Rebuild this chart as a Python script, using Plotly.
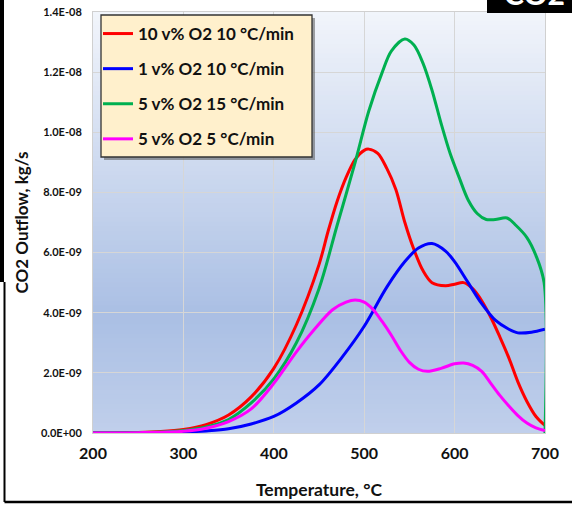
import plotly.graph_objects as go

# ---------------- data (CO2 outflow in units of 1e-9 kg/s) ----------------
red_T = [200, 250, 275, 300, 325, 350, 375, 400, 425, 450, 460, 470, 480, 490, 500, 505, 515, 525, 535, 545,
         555, 565, 575, 590, 600, 610, 620, 630, 640, 650, 660, 670, 680, 690, 700]
red_v = [0, 0.02, 0.05, 0.12, 0.28, 0.6, 1.2, 2.15, 3.6, 5.6, 6.7, 7.7, 8.5, 9.1, 9.4, 9.44, 9.3, 8.8, 8.1, 7.0,
         6.1, 5.4, 5.0, 4.9, 4.95, 5.0, 4.8, 4.4, 3.85, 3.2, 2.5, 1.7, 1.05, 0.55, 0.25]

blue_T = [200, 250, 300, 325, 350, 375, 400, 425, 450, 475, 500, 525, 545, 560, 575, 590, 600, 615,
          630, 645, 660, 670, 685, 700]
blue_v = [0, 0.0, 0.03, 0.07, 0.14, 0.3, 0.55, 1.0, 1.6, 2.5, 3.55, 4.85, 5.7, 6.15, 6.3, 6.05, 5.7, 5.0,
          4.3, 3.75, 3.45, 3.33, 3.35, 3.45]

green_T = [200, 250, 275, 300, 325, 350, 375, 400, 425, 450, 470, 490, 505, 520, 530, 545, 555, 565,
           575, 585, 595, 605, 615, 625, 635, 645, 658, 668, 680, 690, 699, 700]
green_v = [0, 0.01, 0.03, 0.08, 0.2, 0.45, 1.0, 1.8, 3.0, 4.8, 6.9, 9.0, 10.7, 12.0, 12.7, 13.1, 12.9, 12.3,
           11.4, 10.3, 9.3, 8.5, 7.75, 7.3, 7.1, 7.1, 7.15, 6.9, 6.5, 5.9, 5.0, 0]

mag_T = [200, 250, 300, 325, 350, 375, 400, 425, 445, 465, 480, 490, 500, 510, 520, 530, 540, 550,
         560, 570, 585, 600, 610, 620, 630, 640, 650, 660, 670, 680, 690, 700]
mag_v = [0, 0.01, 0.06, 0.16, 0.38, 0.8, 1.65, 2.7, 3.45, 4.1, 4.35, 4.42, 4.35, 4.1, 3.7, 3.25, 2.75, 2.35,
         2.12, 2.05, 2.15, 2.3, 2.33, 2.25, 2.05, 1.65, 1.25, 0.9, 0.58, 0.33, 0.17, 0.08]

series_names = ["10 v% O2 10 °C/min", "1 v% O2 10 °C/min", "5 v% O2 15 °C/min", "5 v% O2 5 °C/min"]

x_ticks = [200, 300, 400, 500, 600, 700]
y_tickvals = [0, 2e-9, 4e-9, 6e-9, 8e-9, 1.0e-8, 1.2e-8, 1.4e-8]
y_ticktext = ["0.0E+00", "2.0E-09", "4.0E-09", "6.0E-09", "8.0E-09", "1.0E-08", "1.2E-08", "1.4E-08"]

# ---------------- figure ----------------
W, H = 572, 505
L, R, T, B = 93, 545, 12, 433
def px(x):
    return (x - L) / (R - L)
def py(y):
    return (B - y) / (B - T)

FONT = "Lato"
fig = go.Figure()

series = [(red_T, red_v, "#ff0000"), (blue_T, blue_v, "#0000ff"),
          (green_T, green_v, "#00b050"), (mag_T, mag_v, "#ff00ff")]
for i, ((xs, vs, col), name) in enumerate(zip(series, series_names)):
    fig.add_trace(go.Scatter(
        x=xs, y=[v * 1e-9 for v in vs], mode="lines", name=name,
        line=dict(color=col, width=3, shape="spline", smoothing=0.9),
        legendgroup=f"g{i}"))

shapes = []
# gradient background
def lerp(c1, c2, t):
    return tuple(round(a + (b - a) * t) for a, b in zip(c1, c2))
stops = [(0.0, (242, 245, 251)), (0.72, (170, 191, 228)), (1.0, (192, 207, 235))]
N = 90
for k in range(N):
    t = (k + 0.5) / N  # from top
    for (t0, c0), (t1, c1) in zip(stops[:-1], stops[1:]):
        if t0 <= t <= t1:
            c = lerp(c0, c1, (t - t0) / (t1 - t0))
            break
    shapes.append(dict(type="rect", xref="paper", yref="paper", x0=0, x1=1,
                       y0=1 - (k + 1) / N, y1=1 - k / N + 0.002, layer="below",
                       line=dict(width=0), fillcolor="rgb(%d,%d,%d)" % c))
# legend shadow + box
lx0, lx1, ly0, ly1 = 101, 312, 15, 157
shapes.append(dict(type="rect", xref="paper", yref="paper", x0=px(lx0 + 3), x1=px(lx1 + 3),
                   y0=py(ly1 + 3), y1=py(ly0 + 3), layer="above",
                   line=dict(width=0), fillcolor="rgba(90,90,90,0.55)"))
shapes.append(dict(type="rect", xref="paper", yref="paper", x0=px(lx0), x1=px(lx1),
                   y0=py(ly1), y1=py(ly0), layer="above",
                   line=dict(width=1.3, color="#333333"), fillcolor="#fff0cc"))
# black frame pieces
shapes.append(dict(type="rect", xref="paper", yref="paper", x0=px(-2), x1=px(4),
                   y0=py(282), y1=py(-2), line=dict(width=0), fillcolor="black"))
shapes.append(dict(type="line", xref="paper", yref="paper", x0=px(4.5), x1=px(4.5),
                   y0=py(282), y1=py(502), line=dict(width=2, color="black")))
shapes.append(dict(type="line", xref="paper", yref="paper", x0=px(4.5), x1=px(574),
                   y0=py(502), y1=py(502), line=dict(width=2.5, color="black")))
shapes.append(dict(type="rect", xref="paper", yref="paper", x0=px(487), x1=px(574),
                   y0=py(13), y1=py(-2), line=dict(width=0), fillcolor="black"))

annotations = [
    dict(text="<b>CO2</b>", xref="paper", yref="paper", x=px(534), y=py(13),
         xanchor="center", yanchor="bottom", showarrow=False,
         font=dict(family=FONT, size=30, color="white")),
]

fig.update_layout(
    width=W, height=H,
    margin=dict(l=L, r=W - R, t=T, b=H - B, autoexpand=False),
    paper_bgcolor="white", plot_bgcolor="rgba(0,0,0,0)",
    font=dict(family=FONT, color="#1a1a1a"),
    shapes=shapes, annotations=annotations,
    showlegend=True,
    legend=dict(x=px(98), y=py(16), xanchor="left", yanchor="top",
                bgcolor="rgba(0,0,0,0)", borderwidth=0,
                font=dict(family=FONT, size=17, color="#111111", weight="bold"),
                tracegroupgap=10, traceorder="grouped", itemwidth=30),
    xaxis=dict(range=[200, 700], tickvals=x_ticks, showgrid=True, gridcolor="#d6d6d6",
               gridwidth=1, zeroline=False, showline=True, linecolor="#d0d0d0", mirror=True,
               automargin=False,
               ticks="outside", ticklen=6, tickcolor="rgba(0,0,0,0)",
               tickfont=dict(family=FONT, size=16, color="#111111", weight="bold"),
               title=dict(text="<b>Temperature, °C</b>", standoff=22,
                          font=dict(family=FONT, size=17.5, color="#111111"))),
    yaxis=dict(range=[0, 1.4e-8], tickvals=y_tickvals, ticktext=y_ticktext, showgrid=True,
               gridcolor="#d6d6d6", gridwidth=1, zeroline=False, showline=True,
               linecolor="#d0d0d0", mirror=True, automargin=False,
               ticks="outside", ticklen=8, tickcolor="rgba(0,0,0,0)",
               tickfont=dict(family=FONT, size=11, color="#111111", weight="bold"),
               title=dict(text="<b>CO2 Outflow, kg/s</b>", standoff=8,
                          font=dict(family=FONT, size=17, color="#111111"))),
)

fig.write_html("out.html", config={"displayModeBar": False},
               post_script="document.body.style.margin='0';")
